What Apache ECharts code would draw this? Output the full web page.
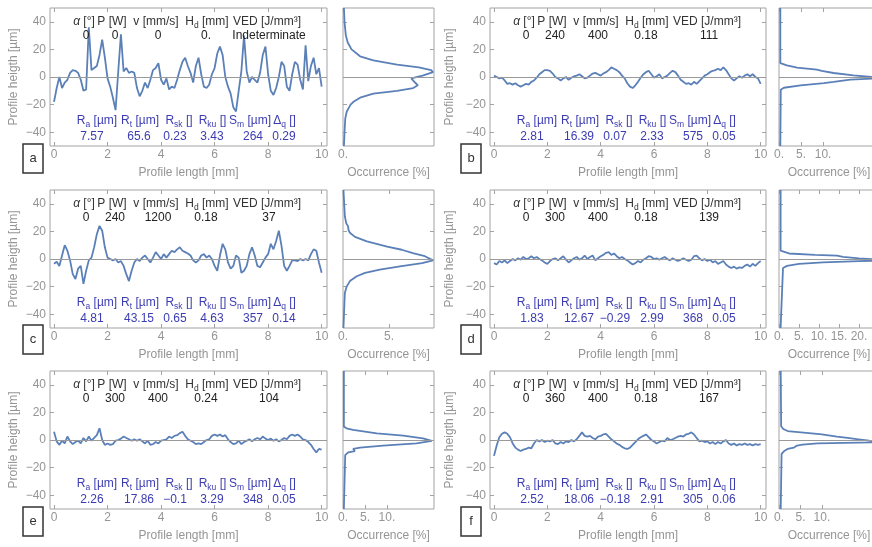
<!DOCTYPE html>
<html><head><meta charset="utf-8">
<script src="https://cdn.jsdelivr.net/npm/echarts@6/dist/echarts.min.js"></script>
<style>html,body{margin:0;padding:0;background:#fff}#c{width:872px;height:547px}</style>
</head><body><div id="c"></div>
<script>
// ---------- DATA ----------
const profileLength = [
  0,0.1,0.2,0.3,0.4,0.5,0.6,0.7,0.8,0.9,
  1,1.1,1.2,1.3,1.4,1.5,1.6,1.7,1.8,1.9,
  2,2.1,2.2,2.3,2.4,2.5,2.6,2.7,2.8,2.9,
  3,3.1,3.2,3.3,3.4,3.5,3.6,3.7,3.8,3.9,
  4,4.1,4.2,4.3,4.4,4.5,4.6,4.7,4.8,4.9,
  5,5.1,5.2,5.3,5.4,5.5,5.6,5.7,5.8,5.9,
  6,6.1,6.2,6.3,6.4,6.5,6.6,6.7,6.8,6.9,
  7,7.1,7.2,7.3,7.4,7.5,7.6,7.7,7.8,7.9,
  8,8.1,8.2,8.3,8.4,8.5,8.6,8.7,8.8,8.9,
  9,9.1,9.2,9.3,9.4,9.5,9.6,9.7,9.8,9.9,
  10];

const heightA = [
  -18,-8,0,-8,-4,-2,3,5,4.5,3,
  -2,-10,-9,36,5,6.5,8,16,27,14,
  -1,-7,-15,-24,4,31,4,6.5,3,4,
  3,-8,-14,-10,-4,-8,-2,5,6.5,10,
  -2,-5.5,-1,-9,-7,-8,-2,5,11,14,
  8,3,-4,8,14,2,-7,-8,-5.5,2,
  6.5,17,22,16,0,-7,-12,-22,-25,-10,
  4,30,4,-4,0,-2,-4,3,16,22,
  2,-10,-13,-8,0,11,8,-7,-10,2,
  11,9,-2,-9,23,-3,8,14,2,6.5,
  -7];
const heightB = [
  1,0,-1,-0.5,-2.5,-5,-4.5,-5.5,-4.5,-6,
  -7,-6,-5,-5.5,-3.5,-2.5,-0.5,2,3.5,5,
  5,4.5,2.5,0,-1,-2.5,-1,0,-2,-0.5,
  0.5,1,2,0.5,-1,-0.5,1,2.5,3,2,
  1,2.5,3.5,5,7,6,5,3.5,1,-1,
  -4.5,-7,-8,-6,-3.5,-0.5,2,3.5,4.5,2,
  -0.5,0.5,2,-1,0,1,3,4.5,3.5,1,
  -2,-3.5,-5,-4.5,-5.5,-3.5,-5,-3,-1,1,
  2,3.5,4.5,5,6,5,7,5,2,-1,
  -2.5,-1,0.5,-0.5,1,2,0.5,2,0,-1,
  -5];
const heightC = [
  -3.5,-2,-5,2.5,10,6,-1,-11,-14.5,-7,
  -5,-18,-8.5,-1,1,8.5,18,24,20.5,8.5,
  1,0,-1,0,-2.5,-1.5,-5,-11,-16,-8.5,
  -2.5,0,-1.5,1,2.5,0,-2.5,1,5,2.5,
  0,3.5,1,3.5,6,5,7,8.5,6,5,
  4,2.5,-1,-2.5,-1,2.5,3.5,1,2.5,0,
  -5,-8.5,2.5,11,7,-2.5,-7,-5,2.5,1,
  -10,-8.5,-5,3.5,8.5,2.5,-5,-6,-2.5,1,
  3.5,11,7,13,20.5,9.5,-5,-8.5,-5,-1,
  -1,-1.5,0,-1,0,-1,3.5,7,6,-2.5,
  -10];
const heightD = [
  -3,-4,-1.5,-2.5,-1,-3,-1.5,0,-1,0.5,
  -0.5,1.5,0,0.5,2,0.5,1.5,0,-1,-2.5,
  -3.5,-1.5,0,0.5,-1,0.5,2,-0.5,-2.5,-1,
  0.5,1.5,-0.5,0.5,2.5,0,1.5,2.5,-1,0.5,
  2,3,4.5,5,3,4,2,0.5,1.5,0,
  -1,-2.5,-4,-3,-1.5,-2.5,-0.5,0.5,2,1.5,
  0,0.5,-0.5,0.5,1.5,0,-1,0.5,-0.5,-1.5,
  -0.5,0.5,-0.5,-1.5,-0.5,2,2.5,0.5,-1,0,
  -1.5,-0.5,-2.5,-1.5,-3.5,-2.5,-1.5,-4,-5.5,-6.5,
  -5.5,-7,-6,-6.5,-5,-4,-5.5,-3.5,-5,-3,
  -1.5];
const heightE = [
  6,-1,-3.5,-0.5,-2.5,2.5,-1,-3,-1.5,-0.5,
  -2.5,1.5,-1,2.5,-0.5,1.5,3.5,8.5,0,-3.5,
  -2.5,-3.5,-3,-0.5,0,1,2.5,1.5,0.5,-0.5,
  0.5,-0.5,0.5,-1,-2.5,-0.5,-3.5,-3,-1.5,-2.5,
  -0.5,0,0.5,2.5,1.5,3,3.5,5,6,3,
  0.5,-0.5,-1.5,-3,-2.5,-3,-1.5,0,0.5,3,
  4,3,4,2.5,3.5,0.5,-1.5,-3,-2.5,-0.5,
  -3,-1.5,-0.5,0.5,-1,0.5,1.5,0.5,2.5,1,
  0,1,-0.5,0.5,-1,0,1.5,0.5,3,4,
  3,4,2.5,0.5,0,-1.5,-3.5,-6.5,-9,-6.5,
  -7];
const heightF = [
  -11.5,-4,2,4.5,5.5,4.5,2,-2.5,-5.5,-7,
  -8,-7,-6.5,-5.5,-6,-2.5,0,-1,0,-1.5,
  -0.5,-1,0,-2.5,-3,-1.5,-2.5,-1,-1.5,0,
  -1,0.5,3,5.5,3,2.5,3,1.5,0.5,2.5,
  3,4,4.5,2.5,0.5,-1,-2.5,-3.5,-5,-6,
  -6.5,-5.5,-3.5,-1.5,0.5,2,3,4,2,0,
  -1,-2.5,-1.5,-0.5,-1,1.5,0,0.5,1.5,2.5,
  3,2.5,4,4.5,5.5,4,1.5,-1,-0.5,-1.5,
  -1,-2.5,-1.5,-3,-1.5,-2.5,-1,0,-2.5,-3.5,
  -2.5,-4,-3,-3.5,-2.5,-3.5,-3,-4,-3,-3.5,
  -3];

// histograms: height [µm] and occurrence [%]
const histHeightA = [50,40,30,25,20,15,12,9,7,5,3.5,1,-1,-2,-4,-6,-8,-10,-12,-15,-18,-20,-25,-30,-40,-50];
const histOccA    = [0.05,0.08,0.15,0.25,0.45,0.9,1.6,2.85,4.0,4.65,4.75,4.2,3.6,3.5,3.8,3.95,3.7,2.85,1.6,0.9,0.55,0.4,0.2,0.12,0.08,0.05];
const histHeightB = [50,10,9.7,8.5,6.8,5.3,4.4,2.9,1.2,0,-0.7,-1.9,-3.6,-4.4,-6,-7.8,-9.2,-10,-50];
const histOccB    = [0.3,0.3,0.5,1.8,4.1,8.6,9.7,12.4,16.9,21,24,16.2,12.4,10.2,4.9,1.1,0.4,0.3,0.3];
const histHeightC = [50,31,26,23.6,21,19,16,12.8,9,6.7,4.3,2,-1,-3,-5.3,-7.7,-10,-12.5,-16,-20,-24.6,-41,-50];
const histOccC    = [0.05,0.2,0.35,0.55,0.6,0.75,1.3,2.6,4.8,6.4,7.6,8.9,9.8,8.6,6.2,4.0,2.4,1.5,0.75,0.4,0.2,0.1,0.05];
const histHeightD = [50,6,5,4,3,2.4,1.5,0.5,-0.8,-1.6,-2.4,-3.5,-5,-6.5,-7.5,-50];
const histOccD    = [0.4,0.4,0.8,2.5,9,14.5,16,20,28,20,11,5,2,1,0.5,0.4];
const histHeightE = [50,9.7,8.5,7.3,4.8,3.2,1.2,-0.7,-2.4,-4.1,-5.6,-6.5,-8,-9,-11,-50];
const histOccE    = [0.2,0.2,0.8,2.3,7.7,13.7,18.2,20.2,16.7,9.1,3.9,2.3,2.7,1.2,0.5,0.2];
const histHeightF = [50,10,8,6.5,5,4,2.5,1.5,0.5,-0.5,-1.5,-2.5,-3.3,-4,-5.5,-6.5,-8,-10,-50];
const histOccF    = [0.4,0.5,1.0,2.0,7,10,13.5,16,18.5,21,26,9,5.5,4.2,3.5,2,1.2,0.6,0.4];

// occurrence axis extents and tick labels
const histMax = [4.8, 22.7, 9.9, 25, 20.7, 23.3];
const histTicks = [[0],[0,5,10],[0,5],[0,5,10,15,20],[0,5,10],[0,5,10]];

const lengthTicks = [0,2,4,6,8,10];
const heightTicks = [-40,-20,0,20,40];

const panelLabels = ['a','b','c','d','e','f'];
const paramHeaders = ['{i|α} {n|[°]}','{n|P [W]}','{n|v [mm/s]}','{n|H}{s|d}{n| [mm]}','{n|VED [J/mm³]}'];
const paramValues = [
  ['0','0','0','0.','Indeterminate'],
  ['0','240','400','0.18','111'],
  ['0','240','1200','0.18','37'],
  ['0','300','400','0.18','139'],
  ['0','300','400','0.24','104'],
  ['0','360','400','0.18','167']];
const statHeaders = ['{n|R}{s|a}{n| [µm]}','{n|R}{s|t}{n| [µm]}','{n|R}{s|sk}{n| []}','{n|R}{s|ku}{n| []}','{n|S}{s|m}{n| [µm]}','{n|Δ}{s|q}{n| []}'];
const statValues = [
  ['7.57','65.6','0.23','3.43','264','0.29'],
  ['2.81','16.39','0.07','2.33','575','0.05'],
  ['4.81','43.15','0.65','4.63','357','0.14'],
  ['1.83','12.67','−0.29','2.99','368','0.05'],
  ['2.26','17.86','−0.1','3.29','348','0.05'],
  ['2.52','18.06','−0.18','2.91','305','0.06']];

const profiles = [heightA,heightB,heightC,heightD,heightE,heightF];
const histH = [histHeightA,histHeightB,histHeightC,histHeightD,histHeightE,histHeightF];
const histO = [histOccA,histOccB,histOccC,histOccD,histOccE,histOccF];

// ---------- LAYOUT / STYLE ----------
const FONT = "'Liberation Sans', Arial, Helvetica, sans-serif";
const GRAY = '#959595';
const FRAME = '#a3a3a3';
const LINE = '#5b80b8';
const BLUE = '#3c3cb2';
const DARK = '#333333';
const colLeft = [50, 490], colW = [277, 276];
const histLeft = [343, 779], histW = [91, 100];
const rowTop = [8, 190, 371], PH = 138;
const yNameGap = [30, 34];
const paramX = [34, 62, 106, 157, 217];
const paramValX = [36, 65, 108, 156, 219];
const statX = [47, 90, 129, 162.5, 200, 234.5];
const statValX = [42, 89, 125, 162, 203, 234];
const boxX = [23, 461], boxY = [144, 325, 507];

const minusFmt = v => v < 0 ? '−' + (-v) : String(v);
const rich = {
  n: {fontSize: 12, fontFamily: FONT, lineHeight: 16},
  i: {fontSize: 12, fontFamily: FONT, fontStyle: 'italic', lineHeight: 16},
  s: {fontSize: 8.5, fontFamily: FONT, lineHeight: 9, verticalAlign: 'bottom'}
};

const option = {animation: false, backgroundColor: '#fff', grid: [], xAxis: [], yAxis: [], series: [], graphic: []};

function addGrid(left, top, width, height) {
  option.grid.push({left, top, width, height, show: true, borderColor: FRAME, borderWidth: 1,
    backgroundColor: 'transparent', containLabel: false, outerBoundsMode: 'none'});
  return option.grid.length - 1;
}
function tickStyle(vals) {
  return {show: true, inside: true, length: 4, lineStyle: {color: FRAME, width: 1}, customValues: vals};
}
const noLine = {show: false, onZero: false};
function addAxes(g, xa, ya) {
  const lab = {color: GRAY, fontSize: 12, fontFamily: FONT};
  option.xAxis.push({gridIndex: g, type: 'value', position: 'bottom', min: xa.min, max: xa.max,
    axisLine: noLine, splitLine: {show: false}, axisTick: tickStyle(xa.ticks),
    axisLabel: Object.assign({customValues: xa.ticks, margin: 3, formatter: xa.fmt}, lab),
    name: xa.name, nameLocation: 'middle', nameGap: 21, nameMoveOverlap: false,
    nameTextStyle: {color: GRAY, fontSize: 12, fontFamily: FONT}});
  option.xAxis.push({gridIndex: g, type: 'value', position: 'top', min: xa.min, max: xa.max,
    axisLine: noLine, splitLine: {show: false}, axisTick: tickStyle(xa.ticks), axisLabel: {show: false}});
  option.yAxis.push({gridIndex: g, type: 'value', position: 'left', min: -50, max: 50,
    axisLine: noLine, splitLine: {show: false}, axisTick: tickStyle(heightTicks),
    axisLabel: ya.labels ? Object.assign({customValues: heightTicks, margin: 4, formatter: minusFmt}, lab) : {show: false},
    name: ya.name || '', nameLocation: 'middle', nameGap: ya.nameGap || 0, nameMoveOverlap: false,
    nameTextStyle: {color: GRAY, fontSize: 12, fontFamily: FONT}});
  option.yAxis.push({gridIndex: g, type: 'value', position: 'right', min: -50, max: 50,
    axisLine: noLine, splitLine: {show: false}, axisTick: tickStyle(heightTicks), axisLabel: {show: false}});
}
const zeroLine = {silent: true, symbol: 'none', label: {show: false}, animation: false,
  lineStyle: {color: '#9a9a9a', width: 1, type: 'solid'}, data: [{yAxis: 0}]};

function text(x, y, str, color, richText) {
  const st = {text: str, fill: color, fontSize: 12, fontFamily: FONT, align: 'center', verticalAlign: 'middle'};
  if (richText) st.rich = rich;
  option.graphic.push({type: 'text', x, y, silent: true, z: 100, style: st});
}

panelLabels.forEach((lbl, i) => {
  const col = i % 2, row = Math.floor(i / 2);
  const top = rowTop[row], left = colLeft[col];

  // profile
  const gp = addGrid(left, top, colW[col], PH);
  addAxes(gp, {min: -0.15, max: 10.2, ticks: lengthTicks, fmt: v => String(v), name: 'Profile length [mm]'},
              {labels: true, name: 'Profile heigth [µm]', nameGap: yNameGap[col]});
  option.series.push({type: 'line', xAxisIndex: 2 * gp, yAxisIndex: 2 * gp, showSymbol: false, symbol: 'none',
    lineStyle: {color: LINE, width: 1.8}, clip: true, z: 3,
    data: profileLength.map((x, k) => [x, profiles[i][k]]), markLine: zeroLine});

  // histogram
  const gh = addGrid(histLeft[col], top, histW[col], PH);
  addAxes(gh, {min: 0, max: histMax[i], ticks: histTicks[i], fmt: v => v + '.', name: 'Occurrence [%]'},
              {labels: false});
  option.series.push({type: 'line', xAxisIndex: 2 * gh, yAxisIndex: 2 * gh, showSymbol: false, symbol: 'none',
    lineStyle: {color: LINE, width: 1.8}, clip: true, z: 3,
    data: histH[i].map((h, k) => [histO[i][k], h]), markLine: zeroLine});

  // annotations
  paramHeaders.forEach((t, k) => text(left + paramX[k], top + 14, t, DARK, true));
  paramValues[i].forEach((t, k) => text(left + paramValX[k], top + 27.5, t, '#222', false));
  statHeaders.forEach((t, k) => text(left + statX[k], top + 113, t, BLUE, true));
  statValues[i].forEach((t, k) => text(left + statValX[k], top + 128.5, t, BLUE, false));

  // panel letter box
  option.graphic.push({type: 'rect', silent: true, z: 100,
    shape: {x: boxX[col], y: boxY[row], width: 20, height: 29},
    style: {fill: '#fff', stroke: '#333', lineWidth: 1.5}});
  option.graphic.push({type: 'text', silent: true, z: 101, x: boxX[col] + 10, y: boxY[row] + 14.5,
    style: {text: lbl, fill: '#333', fontSize: 13, fontFamily: FONT, align: 'center', verticalAlign: 'middle'}});
});

const chart = echarts.init(document.getElementById('c'), null, {renderer: 'canvas'});
chart.setOption(option);
</script>
</body></html>
